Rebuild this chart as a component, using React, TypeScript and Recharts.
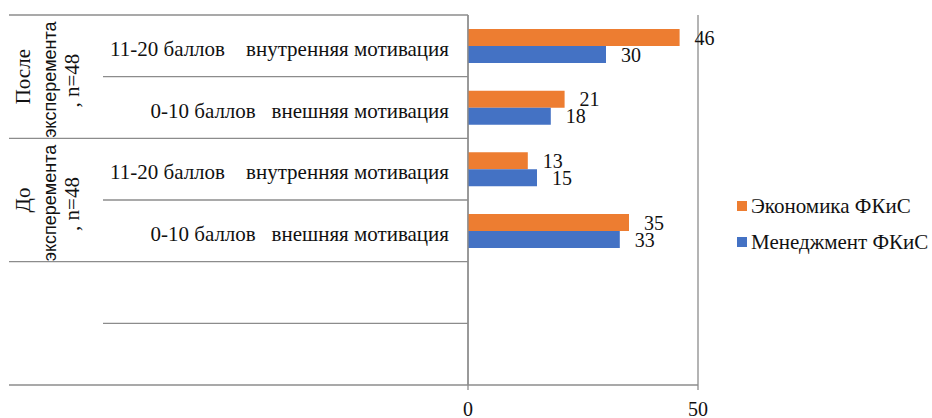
import { BarChart, Bar, XAxis, YAxis, CartesianGrid, LabelList, Legend } from 'recharts';

// rows, top to bottom
const rowKeys = ['r1', 'r2', 'r3', 'r4', 'r5', 'r6'];
const categoryLabels = [
  '11-20 баллов    внутренняя мотивация',
  '0-10 баллов   внешняя мотивация',
  '11-20 баллов    внутренняя мотивация',
  '0-10 баллов   внешняя мотивация',
  '',
  '',
];
const groupTitles = ['После', 'До', ''];
const groupSubtitles = ['эксперемента', 'эксперемента', ''];
const groupSizes = [', n=48', ', n=48', ''];

const economics = [46, 21, 13, 35, null, null];
const management = [30, 18, 15, 33, null, null];

const seriesNames = ['Экономика ФКиС', 'Менеджмент ФКиС'];
const seriesColors = ['#ED7D31', '#4472C4'];
const xTicks = [0, 50];

const serif = 'Liberation Serif, Times New Roman, serif';
const sans = 'Liberation Sans, Arial, sans-serif';
const lineGray = '#8c8c8c';
const ink = '#111';

const data = rowKeys.map((key, i) => ({
  key,
  economics: economics[i],
  management: management[i],
}));

const CategoryTick = (props: any) => {
  const { x, y, payload } = props;
  const i = payload.index ?? props.index;
  const half = payload.offset || 30.8;
  const outerLeft = 9;
  const innerLeft = 103;
  const closesGroup = i % 2 === 1;
  const g = Math.floor(i / 2);
  const cy = y + half;
  const serifStyle = { fontFamily: serif, fontSize: 21, fill: ink, whiteSpace: 'pre' as const };
  return (
    <g>
      {i === 0 && <line x1={outerLeft} x2={x} y1={y - half} y2={y - half} stroke={lineGray} strokeWidth={1.3} />}
      <line x1={closesGroup ? outerLeft : innerLeft} x2={x} y1={y + half} y2={y + half} stroke={lineGray} strokeWidth={1.3} />
      <text x={x - 19} y={y + 3} textAnchor="end" dominantBaseline="central" style={serifStyle}>
        {categoryLabels[i]}
      </text>
      {i % 2 === 0 && groupTitles[g] && (
        <g>
          <text transform={`translate(23, ${cy}) rotate(-90)`} textAnchor="middle" dominantBaseline="central" style={serifStyle}>
            {groupTitles[g]}
          </text>
          <text
            transform={`translate(50, ${cy + 3}) rotate(-90)`}
            textAnchor="middle"
            dominantBaseline="central"
            style={{ fontFamily: sans, fontSize: 18, fill: ink }}
          >
            {groupSubtitles[g]}
          </text>
          <text transform={`translate(72, ${cy + 4}) rotate(-90)`} textAnchor="middle" dominantBaseline="central" style={serifStyle}>
            {groupSizes[g]}
          </text>
        </g>
      )}
    </g>
  );
};

const LegendContent = () => (
  <div style={{ fontFamily: serif, fontSize: 21, color: ink, whiteSpace: 'nowrap' }}>
    {seriesNames.map((name, i) => (
      <div key={name} style={{ display: 'flex', alignItems: 'center', height: 36 }}>
        <span style={{ display: 'block', flex: '0 0 10px', width: 10, height: 10, background: seriesColors[i], marginRight: 4 }} />
        <span>{name}</span>
      </div>
    ))}
  </div>
);

export default function App() {
  return (
    <div style={{ position: 'absolute', left: 0, top: 0, width: 932, height: 418, background: '#fff' }}>
      <BarChart
        width={932}
        height={418}
        data={data}
        layout="vertical"
        margin={{ top: 15, right: 234, bottom: 0, left: 8 }}
        barSize={17}
        barGap={0}
      >
        <CartesianGrid horizontal={false} stroke={lineGray} strokeWidth={1.3} />
        <XAxis
          type="number"
          domain={[0, 50]}
          ticks={xTicks}
          height={33}
          axisLine={{ stroke: lineGray, strokeWidth: 1.3 }}
          tickLine={{ stroke: lineGray, strokeWidth: 1.3 }}
          tickSize={5}
          tickMargin={12}
          tick={{ fontFamily: serif, fontSize: 20, fill: ink, style: { fontFamily: serif } }}
        />
        <YAxis
          type="category"
          dataKey="key"
          width={460}
          axisLine={{ stroke: lineGray, strokeWidth: 1.3 }}
          tickLine={false}
          tickSize={0}
          tickMargin={0}
          interval={0}
          tick={<CategoryTick />}
        />
        <Legend
          content={<LegendContent />}
          wrapperStyle={{ position: 'absolute', left: 737, top: 188, width: 0, height: 0, overflow: 'visible' }}
        />
        <Bar dataKey="economics" name={seriesNames[0]} fill={seriesColors[0]} isAnimationActive={false}>
          <LabelList dataKey="economics" position="right" offset={15} fontSize={20} fill={ink} style={{ fontFamily: serif }} />
        </Bar>
        <Bar dataKey="management" name={seriesNames[1]} fill={seriesColors[1]} isAnimationActive={false}>
          <LabelList dataKey="management" position="right" offset={15} fontSize={20} fill={ink} style={{ fontFamily: serif }} />
        </Bar>
      </BarChart>
    </div>
  );
}
